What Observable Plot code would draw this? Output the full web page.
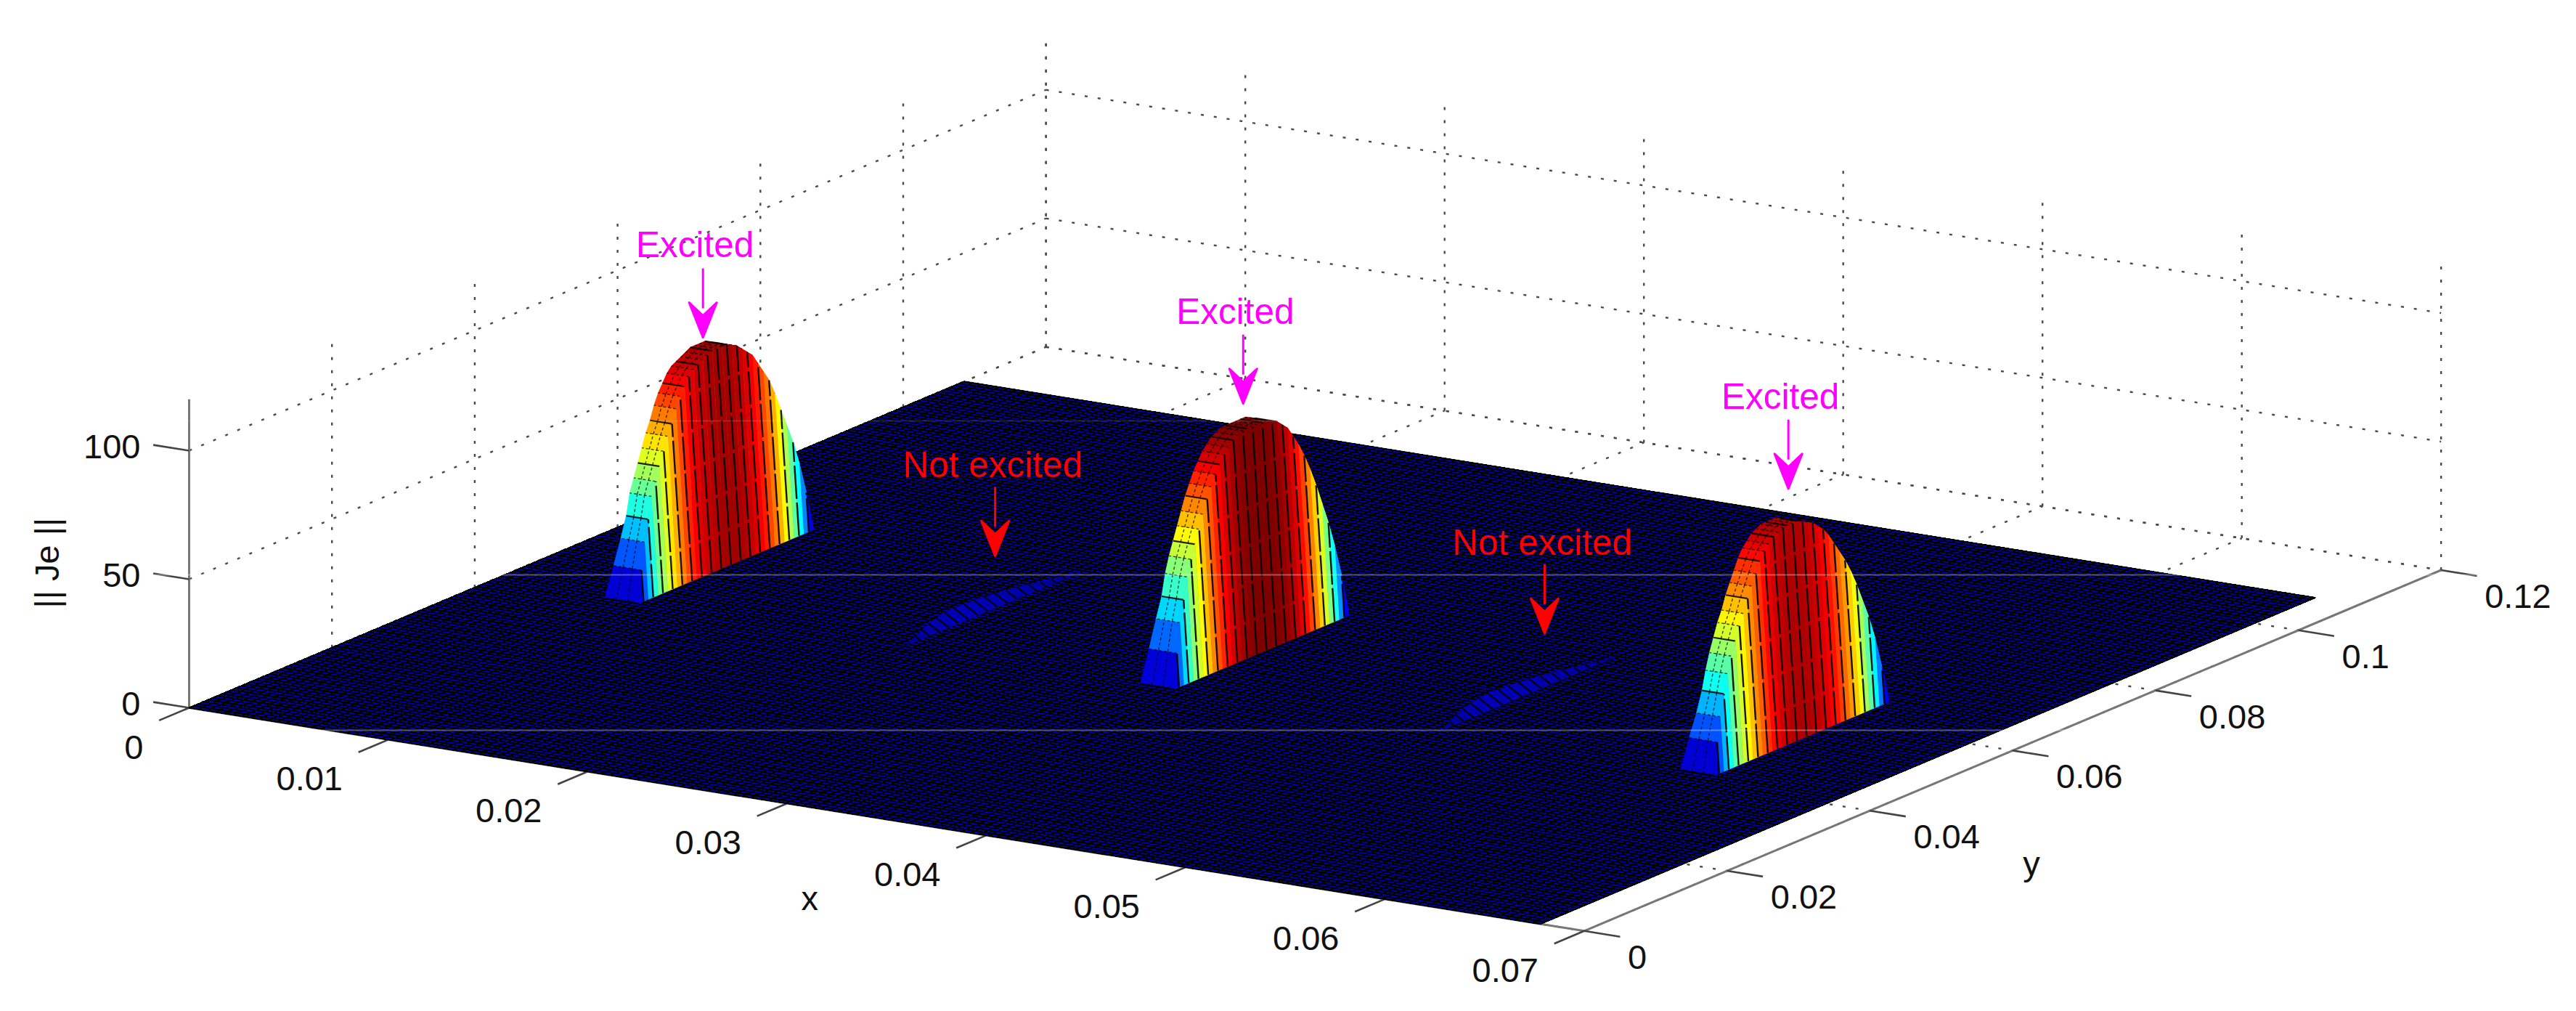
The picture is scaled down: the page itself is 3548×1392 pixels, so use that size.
<!DOCTYPE html>
<html>
<head>
<meta charset="utf-8">
<style>html,body{margin:0;padding:0;background:#fff}svg{display:block}</style>
<script src="https://cdn.jsdelivr.net/npm/d3@7"></script>
<script src="https://cdn.jsdelivr.net/npm/@observablehq/plot@0.6"></script>
</head>
<body>
<script>
// ---- axis values
const xTicks = [0, 0.01, 0.02, 0.03, 0.04, 0.05, 0.06, 0.07];
const yTicks = [0, 0.02, 0.04, 0.06, 0.08, 0.1, 0.12];
const zTicks = [0, 50, 100];
const xLabels = ["0", "0.01", "0.02", "0.03", "0.04", "0.05", "0.06", "0.07"];
const yLabels = ["0", "0.02", "0.04", "0.06", "0.08", "0.1", "0.12"];
const zLabels = ["0", "50", "100"];
const xMax = 0.07, yMax = 0.12, zMax = 120;
// ---- surface extent and the conductor strips
const surfaceXMax = 0.0678, surfaceYMax = 0.1085;
const stripYStart = 0.0425, stripYEnd = 0.067;
const stripDepth = 0.0011, stripLean = 0.0007;
const stripDepthAtFoot = [0.0017, 0.0014, 0.0012];
// ---- || Je || along y across each strip
const strip1X = 0.00733;
const strip1 = [0,12,22,30,38,43,48,53,58,62,67,71,74,77,79,80,81,82,83,83,83,83,82,81,79,77,75,71,67,63,57,50,43,36,27,15,0];
const strip2X = 0.0207;
const strip2 = [0,.3,.7,1,1.4,1.8,2.2,2.5,2.8,3,3.2,3.3,3.4,3.4,3.4,3.4,3.3,3.3,3.2,3.1,3,2.9,2.8,2.7,2.5,2.3,2.1,1.9,1.7,1.5,1.3,1.1,.9,.7,.5,.3,0];
const strip3X = 0.0342;
const strip3 = [0,13,24,32,40,46,51,56,61,66,70,74,77,80,82,84,85,86,86,86,86,86,86,85,84,82,80,76,72,67,61,54,46,38,28,16,0];
const strip4X = 0.0475;
const strip4 = [0,.3,.7,1,1.4,1.8,2.2,2.5,2.8,3,3.2,3.3,3.4,3.4,3.4,3.4,3.3,3.3,3.2,3.1,3,2.9,2.8,2.7,2.5,2.3,2.1,1.9,1.7,1.5,1.3,1.1,.9,.7,.5,.3,0];
const strip5X = 0.0613;
const strip5 = [0,12,21,29,36,42,47,52,56,61,65,69,73,76,78,80,81,82,82,82,82,81,80,79,77,75,72,68,64,60,55,49,42,35,26,14,0];
// ---- annotations (where each arrow tip sits in x, y, z)
const excitedText = "Excited";
const excitedX = [0.00733, 0.0342, 0.0613];
const excitedY = [0.0515, 0.05216, 0.05287];
const excitedZ = [92.9, 99.7, 99.4];
const notText = "Not excited";
const notX = [0.0207, 0.0475];
const notY = [0.0551, 0.05725];
const notZ = [20.3, 20.9];
// ---- jet colormap
const jetStops = [0, 9.6, 31.4, 53.2, 75, 86];
const jetColors = ["#00008f", "#0000ff", "#00ffff", "#ffff00", "#ff0000", "#800000"];
// ---- horizontal seams of the pasted picture (image rows)
const seamRows = [791, 1005];
const faintSeamRows = [579];

// orthographic view of the MATLAB axes
const view = (x, y, z = 0) => [260 + 27450 * x + 9835 * y, 974 + 4390 * x - 4140 * y - 3.54 * z];
const seg = (a, b, kind) => { const p = view(...a), q = view(...b); return {x1: p[0], y1: p[1], x2: q[0], y2: q[1], kind}; };

// grid
const grid = [];
for (const z of zTicks) {
  grid.push(seg([0, 0, z], [0, yMax, z]));
  grid.push(seg([0, yMax, z], [xMax, yMax, z]));
}
for (const x of xTicks) {
  grid.push(seg([x, yMax, 0], [x, yMax, zMax]));
  grid.push(seg([x, 0, 0], [x, yMax, 0]));
}
for (const y of yTicks) {
  if (y > 0) grid.push(seg([0, y, 0], [0, y, zMax]));
  grid.push(seg([0, y, 0], [xMax, y, 0]));
}

// surface floor
const floorPoly = [[0, 0], [surfaceXMax, 0], [surfaceXMax, surfaceYMax], [0, surfaceYMax]].map(([x, y]) => {
  const p = view(x, y); return {px: p[0], py: p[1]};
});
const mesh = [];
const NX = 154, NY = 164;
for (let i = 0; i <= NX; i++) { const x = surfaceXMax * i / NX; mesh.push(seg([x, 0], [x, surfaceYMax])); }
for (let j = 0; j <= NY; j++) { const y = surfaceYMax * j / NY; mesh.push(seg([0, y], [surfaceXMax, y])); }

// strips: a raised top (band going back along -x) and a nearly vertical wall
const bandPolys = [], wallPolys = [], wallLines = [], bandLines = [], bandSteps = [];
let pid = 0;
function quad(list, corners, v) {
  const id = pid++;
  for (const c of corners) { const p = view(...c); list.push({id, px: p[0], py: p[1], v}); }
}
function addStrip(x0, h) {
  const n = h.length - 1, hm = d3.max(h);
  const yAt = i => stripYStart + (stripYEnd - stripYStart) * i / n;
  const xt = i => x0 - stripLean * h[i] / hm;
  const dep = i => stripDepthAtFoot[i] ?? stripDepth;
  const big = hm > 20;
  for (let i = 0; i < n; i++) {
    const v = (h[i] + h[i + 1]) / 2;
    if (big) {
      quad(bandPolys, [[xt(i), yAt(i), h[i]], [xt(i + 1), yAt(i + 1), h[i + 1]],
        [xt(i + 1) - dep(i + 1), yAt(i + 1), h[i + 1]], [xt(i) - dep(i), yAt(i), h[i]]], v);
    }
    quad(wallPolys, [[x0, yAt(i), 0], [x0, yAt(i + 1), 0], [xt(i + 1), yAt(i + 1), h[i + 1]], [xt(i), yAt(i), h[i]]], v);
  }
  for (let i = 0; i <= n; i++) {
    if (big) {
      (i % 3 === 0 ? bandSteps : bandLines).push(seg([xt(i), yAt(i), h[i]], [xt(i) - dep(i), yAt(i), h[i]]));
      if (i < n) for (const f of [0.33, 0.66]) {
        bandLines.push(seg([xt(i) - dep(i) * f, yAt(i), h[i]], [xt(i + 1) - dep(i + 1) * f, yAt(i + 1), h[i + 1]]));
      }
    }
    if (i % 2 === 1) wallLines.push(seg([x0, yAt(i), 0], [xt(i), yAt(i), h[i]]));
  }
}
addStrip(strip1X, strip1);
addStrip(strip2X, strip2);
addStrip(strip3X, strip3);
addStrip(strip4X, strip4);
addStrip(strip5X, strip5);

// axes and ticks
const axes = [seg([0, 0, 0], [0, 0, zMax]), seg([0, 0, 0], [xMax, 0, 0]), seg([xMax, 0, 0], [xMax, yMax, 0])];
const ticks = [
  ...xTicks.map(x => seg([x, 0, 0], [x, -0.0042, 0])),
  ...yTicks.map(y => seg([xMax, y, 0], [xMax + 0.0018, y, 0])),
  ...zTicks.map(z => seg([0, 0, z], [-0.0018, 0, z]))
];
const labelRows = (vals, labels, f) => vals.map((v, i) => { const p = f(v); return {px: p[0], py: p[1], t: labels[i]}; });
const xLab = labelRows(xTicks, xLabels, x => view(x, 0, 0));
const yLab = labelRows(yTicks, yLabels, y => view(xMax, y, 0));
const zLab = labelRows(zTicks, zLabels, z => view(0, 0, z));
const tips = (X, Y, Z) => X.map((x, i) => { const p = view(x, Y[i], Z[i]); return {px: p[0], py: p[1]}; });
const excited = tips(excitedX, excitedY, excitedZ);
const notExcited = tips(notX, notY, notZ);
const pXl = view(0.035, 0), pYl = view(xMax, 0.06), pZl = view(0, 0, 60);

const arrowShape = {
  draw(ctx, l) {
    ctx.moveTo(0, 0); ctx.lineTo(0, -l + 40);
    ctx.moveTo(0, -l); ctx.lineTo(-19, -l + 48); ctx.lineTo(0, -l + 30); ctx.lineTo(19, -l + 48); ctx.closePath();
  }
};
const font = 47, noteFont = 49.5;
const P = {x: "px", y: "py"};
const L = {x1: "x1", y1: "y1", x2: "x2", y2: "y2"};

const chart = Plot.plot({
  width: 3548, height: 1392, margin: 0,
  style: {fontFamily: "'Liberation Sans', Arial, sans-serif", background: "#fff"},
  x: {domain: [0, 3548], range: [0, 3548], axis: null},
  y: {domain: [0, 1392], range: [0, 1392], axis: null},
  color: {type: "linear", domain: jetStops, range: jetColors, interpolate: "rgb"},
  marks: [
    Plot.link(grid, {...L, stroke: "#4a4a4a", strokeWidth: 2.4, strokeDasharray: "4 14"}),
    Plot.link(axes, {...L, stroke: "#777", strokeWidth: 3}),
    Plot.link(ticks, {...L, stroke: "#444", strokeWidth: 2.6}),
    // surface
    Plot.line(floorPoly, {...P, fill: "#0000a8", stroke: "#222", strokeWidth: 2}),
    Plot.link(mesh, {...L, stroke: "#000", strokeWidth: 2, shapeRendering: "crispEdges"}),
    // strips
    Plot.line(bandPolys, {...P, z: "id", fill: "v", stroke: "v", strokeWidth: 0.8}),
    Plot.link(bandLines, {...L, stroke: "#000", strokeWidth: 1.4, strokeOpacity: 0.7, strokeDasharray: "4 3"}),
    Plot.link(bandSteps, {...L, stroke: "#000", strokeWidth: 2.2, strokeOpacity: 0.85}),
    Plot.line(wallPolys, {...P, z: "id", fill: "v", stroke: "v", strokeWidth: 0.8}),
    Plot.link(wallLines, {...L, stroke: "#000", strokeWidth: 2.4, strokeOpacity: 0.9, strokeDasharray: "46 5"}),
    // seams
    Plot.ruleY(seamRows, {stroke: "#fff", strokeOpacity: 0.33, strokeWidth: 2}),
    Plot.ruleY(faintSeamRows, {stroke: "#fff", strokeOpacity: 0.13, strokeWidth: 2}),
    // tick labels
    Plot.text(xLab, {...P, text: "t", textAnchor: "end", dx: -63, dy: 55, fontSize: font, fill: "#111"}),
    Plot.text(yLab, {...P, text: "t", textAnchor: "start", dx: 60, dy: 37, fontSize: font, fill: "#111"}),
    Plot.text(zLab, {...P, text: "t", textAnchor: "end", dx: -67, dy: -5, fontSize: font, fill: "#111"}),
    // axis titles
    Plot.text([{px: pXl[0], py: pXl[1], t: "x"}], {...P, text: "t", dx: -106, dy: 110, fontSize: font, fill: "#111"}),
    Plot.text([{px: pYl[0], py: pYl[1], t: "y"}], {...P, text: "t", dx: 26, dy: 157, fontSize: font, fill: "#111"}),
    Plot.text([{px: pZl[0], py: pZl[1], t: "|| Je ||"}], {...P, text: "t", rotate: -90, dx: -195, dy: 13, fontSize: font, fill: "#111"}),
    // annotations
    Plot.vector(excited, {...P, length: 95, rotate: 180, anchor: "end", shape: arrowShape, stroke: "#ff00ff", fill: "#ff00ff", strokeWidth: 3, strokeLinecap: "butt"}),
    Plot.vector(notExcited, {...P, length: 95, rotate: 180, anchor: "end", shape: arrowShape, stroke: "#ff0000", fill: "#ff0000", strokeWidth: 3, strokeLinecap: "butt"}),
    Plot.text(excited, {...P, text: () => excitedText, dx: -11, dy: -126, fontSize: noteFont, fill: "#ff00ff"}),
    Plot.text(notExcited, {...P, text: () => notText, dx: -3, dy: -124, fontSize: noteFont, fill: "#ff0000"})
  ]
});
document.body.appendChild(chart);
</script>
</body>
</html>
